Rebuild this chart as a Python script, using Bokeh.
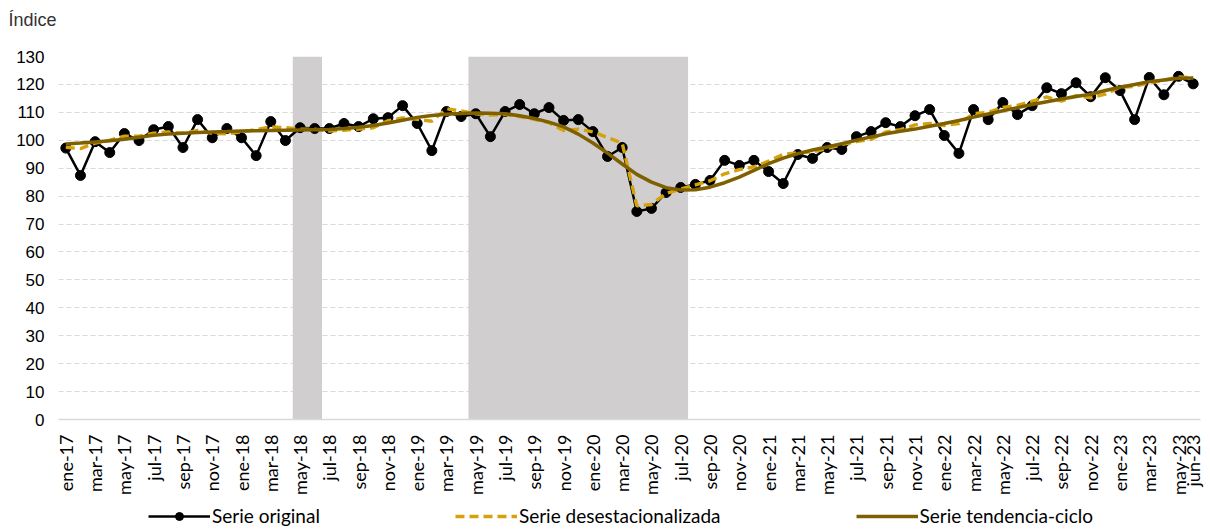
import math
from bokeh.plotting import figure
from bokeh.layouts import column
from bokeh.models import Range1d, FixedTicker, BoxAnnotation, Legend, LegendItem
from bokeh.core.properties import value
from bokeh.embed import file_html
from bokeh.resources import INLINE

meses = ["ene", "feb", "mar", "abr", "may", "jun", "jul", "ago", "sep", "oct", "nov", "dic"]
etiquetas = [f"{m}-{a}" for a in range(17, 24) for m in meses][:78]

serie_original = [
    97.2, 87.4, 99.5, 95.6, 102.4, 99.9, 103.8, 104.9, 97.4, 107.4, 100.9, 104.2,
    100.9, 94.5, 106.7, 99.9, 104.5, 104.2, 104.2, 106.0, 104.9, 107.7, 108.1, 112.4,
    106.0, 96.3, 110.3, 108.5, 109.5, 101.3, 110.3, 112.8, 109.5, 111.7, 107.1, 107.4,
    103.1, 94.2, 97.4, 74.5, 75.6, 81.3, 83.1, 84.2, 85.6, 92.8, 91.0, 92.8,
    88.8, 84.5, 94.9, 93.5, 97.4, 96.7, 101.3, 103.1, 106.3, 104.9, 108.8, 111.0,
    101.7, 95.3, 111.0, 107.4, 113.5, 109.2, 112.4, 118.8, 116.7, 120.6, 115.6, 122.4,
    117.8, 107.4, 122.5, 116.3, 122.9, 120.2,
]

serie_desest = [
    97.5, 97.0, 99.0, 100.0, 101.5, 101.5, 102.5, 103.0, 102.5, 103.5, 102.5, 102.3,
    103.0, 103.8, 104.8, 104.5, 104.0, 104.0, 103.3, 103.6, 104.0, 104.5, 107.0, 108.0,
    107.5, 106.8, 111.3, 110.5, 109.5, 109.0, 109.3, 108.5, 107.5, 106.3, 103.5, 104.0,
    103.0, 101.0, 99.0, 76.5, 77.0, 81.0, 82.5, 84.0, 85.5, 88.0, 89.5, 90.5,
    92.5, 95.0, 95.5, 95.8, 97.0, 98.5, 99.5, 100.3, 103.0, 103.8, 105.5, 106.0,
    105.3, 106.0, 109.5, 110.0, 111.8, 112.5, 114.0, 115.5, 114.0, 116.0, 115.2, 116.5,
    119.0, 119.3, 120.5, 121.5, 122.7, 122.3,
]

serie_tendencia = [
    98.7, 99.0, 99.4, 99.8, 100.4, 101.1, 101.8, 102.2, 102.5, 102.8, 103.0, 103.1,
    103.3, 103.4, 103.5, 103.6, 103.7, 103.8, 103.9, 104.2, 104.7, 105.3, 106.2, 107.2,
    108.2, 108.9, 109.3, 109.6, 109.8, 109.7, 109.5, 108.8, 107.8, 106.5, 104.8, 102.2,
    99.0, 95.4, 91.5, 87.8, 85.0, 83.0, 82.2, 82.3, 83.2, 84.8, 86.8, 89.2,
    91.6, 93.6, 95.2, 96.5, 97.6, 98.8, 100.0, 101.2, 102.3, 103.2, 104.0, 105.0,
    106.0, 107.1, 108.3, 109.4, 110.6, 111.7, 112.8, 113.8, 114.8, 115.7, 116.5, 117.8,
    119.0, 120.0, 121.0, 121.6, 122.2, 122.3,
]

periodos_sombreados = [("may-18", "jun-18"), ("may-19", "jul-20")]

titulo_eje = "Índice"

FONT_TXT = "Lato"
FONT_NUM = "Liberation Sans"
W = 1206

x = list(range(len(etiquetas)))

# ---- header strip with the axis caption ----
p_top = figure(width=W, height=40, x_range=Range1d(0, W), y_range=Range1d(0, 40),
               output_backend="svg", toolbar_location=None, min_border=0,
               frame_align=False)
p_top.axis.visible = False
p_top.grid.visible = False
p_top.outline_line_color = None
p_top.text(x=[8], y=[21], text=[titulo_eje], text_font=value(FONT_NUM),
           text_font_size="18px", text_color="#333333", text_baseline="middle",
           text_align="left")

# ---- main chart ----
p = figure(width=W, height=460,
           x_range=Range1d(-0.5, len(etiquetas) - 0.5), y_range=Range1d(0, 130),
           output_backend="svg", toolbar_location=None,
           min_border_left=58, min_border_right=6, min_border_top=16, min_border_bottom=81)
p.outline_line_color = None
p.background_fill_color = "white"

for a, b in periodos_sombreados:
    p.add_layout(BoxAnnotation(left=etiquetas.index(a) - 0.5, right=etiquetas.index(b) + 0.5,
                               bottom=0, top=130, fill_color="#D0CECF", fill_alpha=1.0,
                               line_alpha=0, level="underlay"))

p.line(x, serie_original, line_color="black", line_width=2.5)
p.scatter(x, serie_original, size=10, fill_color="black", line_color="black")
p.line(x, serie_desest, line_color="#D4A20C", line_width=3.4, line_dash="9 5")
p.line(x, serie_tendencia, line_color="#7F6000", line_width=3.5)

p.xaxis.ticker = FixedTicker(ticks=list(range(0, len(etiquetas), 2)) + [len(etiquetas) - 1])
p.xaxis.major_label_overrides = {i: etiquetas[i] for i in x}
p.xaxis.major_label_orientation = math.pi / 2
p.xaxis.major_label_text_font = FONT_TXT
p.xaxis.major_label_text_font_size = "18px"
p.xaxis.major_label_text_color = "black"
p.xaxis.major_label_standoff = 9
p.xaxis.major_tick_line_color = None
p.xaxis.minor_tick_line_color = None
p.xaxis.axis_line_color = "#D9D9D9"
p.xaxis.axis_line_width = 1.5

p.yaxis.ticker = FixedTicker(ticks=list(range(0, 131, 10)))
p.yaxis.major_label_text_font = FONT_NUM
p.yaxis.major_label_text_font_size = "17px"
p.yaxis.major_label_text_color = "black"
p.yaxis.major_label_standoff = 8
p.yaxis.major_tick_line_color = None
p.yaxis.minor_tick_line_color = None
p.yaxis.axis_line_color = None

p.xgrid.grid_line_color = None
p.ygrid.grid_line_color = "#D9D9D9"
p.ygrid.grid_line_dash = "5 3"
p.ygrid.grid_line_width = 1.2

# ---- legend strip (proxy renderers kept outside the visible range) ----
p_leg = figure(width=W, height=30, x_range=Range1d(0, 1), y_range=Range1d(-2, -1),
               output_backend="svg", toolbar_location=None, min_border=0,
               frame_align=False)
p_leg.axis.visible = False
p_leg.grid.visible = False
p_leg.outline_line_color = None
l1 = p_leg.line(x, serie_original, line_color="black", line_width=2.5)
l1m = p_leg.scatter(x, serie_original, size=10, fill_color="black", line_color="black")
l2 = p_leg.line(x, serie_desest, line_color="#D4A20C", line_width=3.4, line_dash="9 5")
l3 = p_leg.line(x, serie_tendencia, line_color="#7F6000", line_width=3.5)

legend = Legend(items=[
    LegendItem(label="Serie original", renderers=[l1, l1m]),
    LegendItem(label="Serie desestacionalizada", renderers=[l2]),
    LegendItem(label="Serie tendencia-ciclo", renderers=[l3]),
], orientation="horizontal", location=(148, 3), spacing=135, glyph_width=62,
    glyph_height=20, label_height=20, label_standoff=2, padding=0, margin=0,
    label_text_font=FONT_TXT, label_text_font_size="19px", label_text_color="black",
    background_fill_alpha=0, border_line_alpha=0)
p_leg.add_layout(legend)

layout = column(p_top, p, p_leg, spacing=0)
open("out.html", "w").write(file_html(layout, INLINE))
